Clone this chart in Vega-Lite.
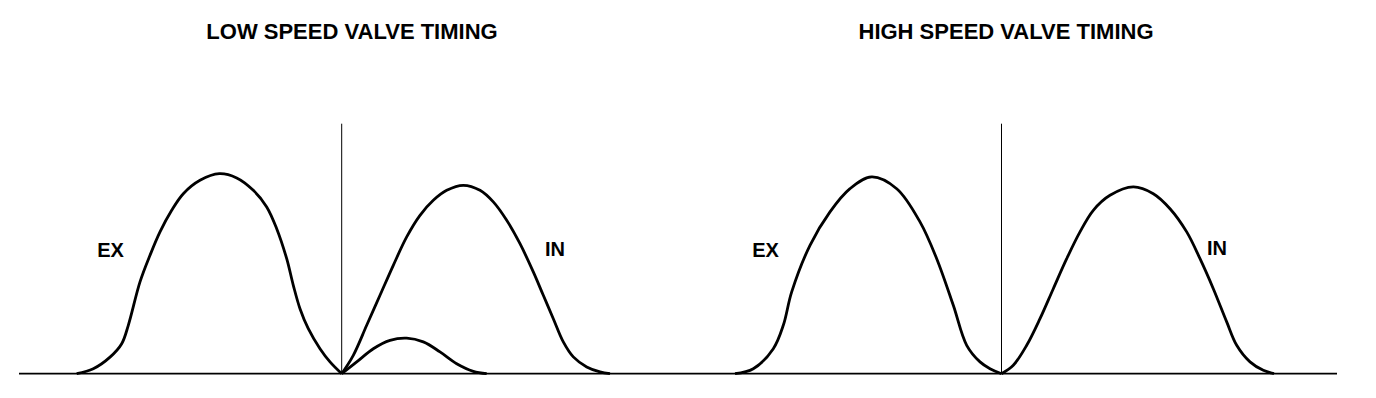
{
  "$schema": "https://vega.github.io/schema/vega-lite/v6.json",
  "padding": {"top": 21, "left": 0, "right": 0, "bottom": 0},
  "spacing": 0,
  "bounds": "flush",
  "background": "white",
  "config": {
    "view": {"stroke": null},
    "title": {"font": "Liberation Sans", "fontSize": 22, "fontWeight": "bold", "color": "black", "offset": 18, "anchor": "middle"}
  },
  "datasets": {
    "low": [
      {"s": "EX", "a": -265, "l": 0}, {"s": "EX", "a": -248.4, "l": 0.25}, {"s": "EX", "a": -231.7, "l": 0.83}, {"s": "EX", "a": -220, "l": 1.5},
      {"s": "EX", "a": -213.4, "l": 2.42}, {"s": "EX", "a": -201.7, "l": 4.59}, {"s": "EX", "a": -191.7, "l": 5.92}, {"s": "EX", "a": -181.7, "l": 7.09},
      {"s": "EX", "a": -170, "l": 8.17}, {"s": "EX", "a": -158.4, "l": 9.0}, {"s": "EX", "a": -141.7, "l": 9.67}, {"s": "EX", "a": -122.4, "l": 10.0},
      {"s": "EX", "a": -105, "l": 9.79}, {"s": "EX", "a": -88.4, "l": 9.17}, {"s": "EX", "a": -75, "l": 8.34}, {"s": "EX", "a": -65, "l": 7.25},
      {"s": "EX", "a": -55, "l": 5.75}, {"s": "EX", "a": -48.4, "l": 4.42}, {"s": "EX", "a": -41.7, "l": 3.25}, {"s": "EX", "a": -33.4, "l": 2.25},
      {"s": "EX", "a": -21.7, "l": 1.25}, {"s": "EX", "a": -11.7, "l": 0.59}, {"s": "EX", "a": 0, "l": 0},
      {"s": "IN", "a": 0, "l": 0}, {"s": "IN", "a": 11.6, "l": 0.92}, {"s": "IN", "a": 25, "l": 2.42}, {"s": "IN", "a": 38.3, "l": 3.92},
      {"s": "IN", "a": 51.6, "l": 5.42}, {"s": "IN", "a": 65, "l": 6.84}, {"s": "IN", "a": 78.3, "l": 7.92}, {"s": "IN", "a": 91.6, "l": 8.67},
      {"s": "IN", "a": 105, "l": 9.17}, {"s": "IN", "a": 121.6, "l": 9.42}, {"s": "IN", "a": 138.3, "l": 9.17}, {"s": "IN", "a": 151.6, "l": 8.59},
      {"s": "IN", "a": 165, "l": 7.67}, {"s": "IN", "a": 178.3, "l": 6.5}, {"s": "IN", "a": 191.6, "l": 5.09}, {"s": "IN", "a": 201.6, "l": 3.92},
      {"s": "IN", "a": 211.6, "l": 2.75}, {"s": "IN", "a": 221.6, "l": 1.59}, {"s": "IN", "a": 231.6, "l": 0.84}, {"s": "IN", "a": 245, "l": 0.34},
      {"s": "IN", "a": 258.3, "l": 0.09}, {"s": "IN", "a": 268.3, "l": 0},
      {"s": "IN2", "a": 0, "l": 0}, {"s": "IN2", "a": 15, "l": 0.59}, {"s": "IN2", "a": 31.6, "l": 1.25}, {"s": "IN2", "a": 48.3, "l": 1.67},
      {"s": "IN2", "a": 65, "l": 1.78}, {"s": "IN2", "a": 81.6, "l": 1.59}, {"s": "IN2", "a": 98.3, "l": 1.09}, {"s": "IN2", "a": 115, "l": 0.5},
      {"s": "IN2", "a": 131.6, "l": 0.12}, {"s": "IN2", "a": 145, "l": 0}
    ],
    "high": [
      {"s": "EX", "a": -266.5, "l": 0}, {"s": "EX", "a": -248.2, "l": 0.25}, {"s": "EX", "a": -228.2, "l": 1.25}, {"s": "EX", "a": -218.2, "l": 2.42},
      {"s": "EX", "a": -209.8, "l": 4.09}, {"s": "EX", "a": -191.5, "l": 6.42}, {"s": "EX", "a": -171.5, "l": 8.09}, {"s": "EX", "a": -151.5, "l": 9.25},
      {"s": "EX", "a": -129.8, "l": 9.84}, {"s": "EX", "a": -104.8, "l": 9.25}, {"s": "EX", "a": -81.5, "l": 7.59}, {"s": "EX", "a": -64.8, "l": 5.75},
      {"s": "EX", "a": -48.2, "l": 3.42}, {"s": "EX", "a": -34.8, "l": 1.42}, {"s": "EX", "a": -21.5, "l": 0.59}, {"s": "EX", "a": -11.5, "l": 0.25},
      {"s": "EX", "a": 0, "l": 0},
      {"s": "IN", "a": 0, "l": 0}, {"s": "IN", "a": 11.8, "l": 0.42}, {"s": "IN", "a": 25.2, "l": 1.42}, {"s": "IN", "a": 38.5, "l": 2.75},
      {"s": "IN", "a": 51.8, "l": 4.25}, {"s": "IN", "a": 65.2, "l": 5.75}, {"s": "IN", "a": 78.5, "l": 7.09}, {"s": "IN", "a": 91.8, "l": 8.17},
      {"s": "IN", "a": 108.5, "l": 8.92}, {"s": "IN", "a": 131.8, "l": 9.34}, {"s": "IN", "a": 151.8, "l": 9.0}, {"s": "IN", "a": 168.5, "l": 8.25},
      {"s": "IN", "a": 185.2, "l": 7.09}, {"s": "IN", "a": 198.5, "l": 5.75}, {"s": "IN", "a": 211.8, "l": 4.25}, {"s": "IN", "a": 225.2, "l": 2.59},
      {"s": "IN", "a": 235.2, "l": 1.42}, {"s": "IN", "a": 248.5, "l": 0.59}, {"s": "IN", "a": 261.8, "l": 0.17}, {"s": "IN", "a": 272.5, "l": 0}
    ],
    "lowRef": [{"a0": -322.7, "a1": 346.3, "tdc": 0, "base": 0, "top": 12.5}],
    "highRef": [{"a0": -313.5, "a1": 335.5, "tdc": 0, "base": 0, "top": 12.5}],
    "lowLabels": [{"t": "EX", "a": -231.2, "l": 6.16}, {"t": "IN", "a": 213.3, "l": 6.17}],
    "highLabels": [{"t": "EX", "a": -236, "l": 6.12}, {"t": "IN", "a": 215.5, "l": 6.26}]
  },
  "hconcat": [
    {
      "width": 688,
      "height": 338,
      "title": {"text": "LOW SPEED VALVE TIMING", "dx": 8},
      "layer": [
        {
          "data": {"name": "lowRef"},
          "mark": {"type": "rule", "color": "black", "strokeWidth": 1.8},
          "encoding": {
            "x": {"field": "a0", "type": "quantitative", "scale": {"domain": [-341.7, 346.3], "nice": false, "zero": false}, "axis": null},
            "x2": {"field": "a1"},
            "y": {"field": "base", "type": "quantitative", "scale": {"domain": [-1.315, 15.585], "nice": false, "zero": false}, "axis": null}
          }
        },
        {
          "data": {"name": "lowRef"},
          "mark": {"type": "rule", "color": "black", "strokeWidth": 1},
          "encoding": {
            "x": {"field": "tdc", "type": "quantitative"},
            "y": {"field": "base", "type": "quantitative"},
            "y2": {"field": "top"}
          }
        },
        {
          "data": {"name": "low"},
          "mark": {"type": "line", "color": "black", "strokeWidth": 2.8, "interpolate": "catmull-rom"},
          "encoding": {
            "x": {"field": "a", "type": "quantitative"},
            "y": {"field": "l", "type": "quantitative"},
            "detail": {"field": "s", "type": "nominal"}
          }
        },
        {
          "data": {"name": "lowLabels"},
          "mark": {"type": "text", "font": "Liberation Sans", "fontWeight": "bold", "fontSize": 20, "color": "black", "align": "center", "baseline": "middle"},
          "encoding": {
            "x": {"field": "a", "type": "quantitative"},
            "y": {"field": "l", "type": "quantitative"},
            "text": {"field": "t", "type": "nominal"}
          }
        }
      ]
    },
    {
      "width": 688,
      "height": 338,
      "title": {"text": "HIGH SPEED VALVE TIMING", "dx": -26},
      "layer": [
        {
          "data": {"name": "highRef"},
          "mark": {"type": "rule", "color": "black", "strokeWidth": 1.8},
          "encoding": {
            "x": {"field": "a0", "type": "quantitative", "scale": {"domain": [-313.5, 374.5], "nice": false, "zero": false}, "axis": null},
            "x2": {"field": "a1"},
            "y": {"field": "base", "type": "quantitative", "scale": {"domain": [-1.315, 15.585], "nice": false, "zero": false}, "axis": null}
          }
        },
        {
          "data": {"name": "highRef"},
          "mark": {"type": "rule", "color": "black", "strokeWidth": 1},
          "encoding": {
            "x": {"field": "tdc", "type": "quantitative"},
            "y": {"field": "base", "type": "quantitative"},
            "y2": {"field": "top"}
          }
        },
        {
          "data": {"name": "high"},
          "mark": {"type": "line", "color": "black", "strokeWidth": 2.8, "interpolate": "catmull-rom"},
          "encoding": {
            "x": {"field": "a", "type": "quantitative"},
            "y": {"field": "l", "type": "quantitative"},
            "detail": {"field": "s", "type": "nominal"}
          }
        },
        {
          "data": {"name": "highLabels"},
          "mark": {"type": "text", "font": "Liberation Sans", "fontWeight": "bold", "fontSize": 20, "color": "black", "align": "center", "baseline": "middle"},
          "encoding": {
            "x": {"field": "a", "type": "quantitative"},
            "y": {"field": "l", "type": "quantitative"},
            "text": {"field": "t", "type": "nominal"}
          }
        }
      ]
    }
  ]
}
